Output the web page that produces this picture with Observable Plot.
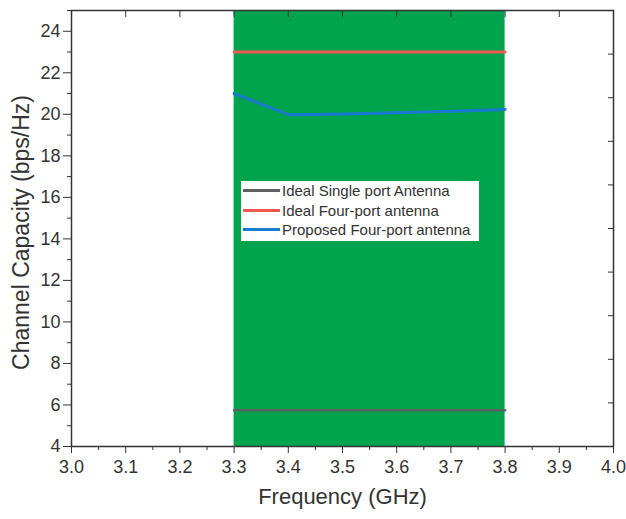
<!DOCTYPE html>
<html><head><meta charset="utf-8">
<script src="https://cdn.jsdelivr.net/npm/d3@7"></script>
<script src="https://cdn.jsdelivr.net/npm/@observablehq/plot@0.6"></script>
<style>
body{margin:0;background:#fff;font-family:"Liberation Sans",Arial,sans-serif;overflow:hidden;}
#wrap{position:relative;width:626px;height:519px;}
#legend{position:absolute;left:241px;top:181px;width:238px;height:60px;background:#fff;font-size:15px;color:#333;}
#legend div{display:flex;align-items:center;height:19.5px;}
#legend span.l{display:inline-block;width:37px;height:3px;margin-left:2px;margin-right:2px;}
</style></head>
<body><div id="wrap"><div id="legend"></div></div>
<script>
const seriesNames = ["Ideal Single port Antenna","Ideal Four-port antenna","Proposed Four-port antenna"];
const seriesColors = ["#5e5f61","#ef5a50","#1a7ad0"];
const freqSingle = [3.3, 3.8];
const capSingle = [5.75, 5.75];
const freqFour = [3.3, 3.8];
const capFour = [23.0, 23.0];
const freqProposed = [3.3, 3.4, 3.45, 3.5, 3.6, 3.7, 3.8];
const capProposed = [21.0, 19.98, 19.99, 20.02, 20.08, 20.15, 20.23];
const bandStart = 3.3, bandEnd = 3.8;
const xTicks = [3.0,3.1,3.2,3.3,3.4,3.5,3.6,3.7,3.8,3.9,4.0];
const xMinor = [3.05,3.15,3.25,3.35,3.45,3.55,3.65,3.75,3.85,3.95];
const yTicks = [4,6,8,10,12,14,16,18,20,22,24];
const yMinor = [5,7,9,11,13,15,17,19,21,23,25];
const yRightTicks = [6.1,8.2,10.3,12.4,14.5,16.6,18.7,20.8,22.9];

const mk = (xs, ys, name) => xs.map((x,i)=>({x, y: ys[i], name}));
const data = [
  ...mk(freqSingle, capSingle, seriesNames[0]),
  ...mk(freqFour, capFour, seriesNames[1]),
  ...mk(freqProposed, capProposed, seriesNames[2])
];

const chart = Plot.plot({
  width: 626, height: 519,
  marginLeft: 71, marginRight: 13, marginTop: 10, marginBottom: 73,
  style: {fontFamily: '"Liberation Sans", Arial, sans-serif', fontSize: "18px", color: "#333", background: "#fff"},
  x: {domain: [3.0, 4.0]},
  y: {domain: [4, 25]},
  marks: [
    Plot.rect([{x1: bandStart, x2: bandEnd}], {x1: "x1", x2: "x2", y1: 4, y2: 25, fill: "#00a44c"}),
    Plot.line(data.filter(d=>d.name===seriesNames[0]), {x:"x", y:"y", stroke: seriesColors[0], strokeWidth: 2.5}),
    Plot.line(data.filter(d=>d.name===seriesNames[1]), {x:"x", y:"y", stroke: seriesColors[1], strokeWidth: 3}),
    Plot.line(data.filter(d=>d.name===seriesNames[2]), {x:"x", y:"y", stroke: seriesColors[2], strokeWidth: 3}),
    Plot.frame({stroke: "#333", strokeWidth: 1.5}),
    Plot.axisX({ticks: xTicks, tickFormat: d3.format(".1f"), tickSize: 7, tickPadding: 7, label: null, stroke: "#333", fill: "#333"}),
    Plot.axisX({ticks: xMinor, tickFormat: () => "", tickSize: 4, stroke: "#333", label: null}),
    Plot.axisX({anchor: "top", ticks: xTicks, tickFormat: () => "", tickSize: -6, stroke: "#333", label: null}),
    Plot.axisY({ticks: yTicks, tickSize: 8, tickPadding: 3, label: null, stroke: "#333", fill: "#333"}),
    Plot.axisY({ticks: yMinor, tickFormat: () => "", tickSize: 4, stroke: "#333", label: null}),
    Plot.axisY({anchor: "right", ticks: yRightTicks, tickFormat: () => "", tickSize: -6, stroke: "#333", label: null}),
    Plot.text(["Frequency (GHz)"], {frameAnchor: "bottom", dy: 57, fontSize: 22, fill: "#333"}),
    Plot.text(["Channel Capacity (bps/Hz)"], {frameAnchor: "left", textAnchor: "middle", dx: -50, dy: 4, rotate: -90, fontSize: 23, fill: "#333"})
  ]
});
document.getElementById("wrap").prepend(chart);
const lg = document.getElementById("legend");
seriesNames.forEach((n,i)=>{
  const row = document.createElement("div");
  row.innerHTML = `<span class="l" style="background:${seriesColors[i]}"></span><span>${n}</span>`;
  lg.appendChild(row);
});
</script></body></html>
